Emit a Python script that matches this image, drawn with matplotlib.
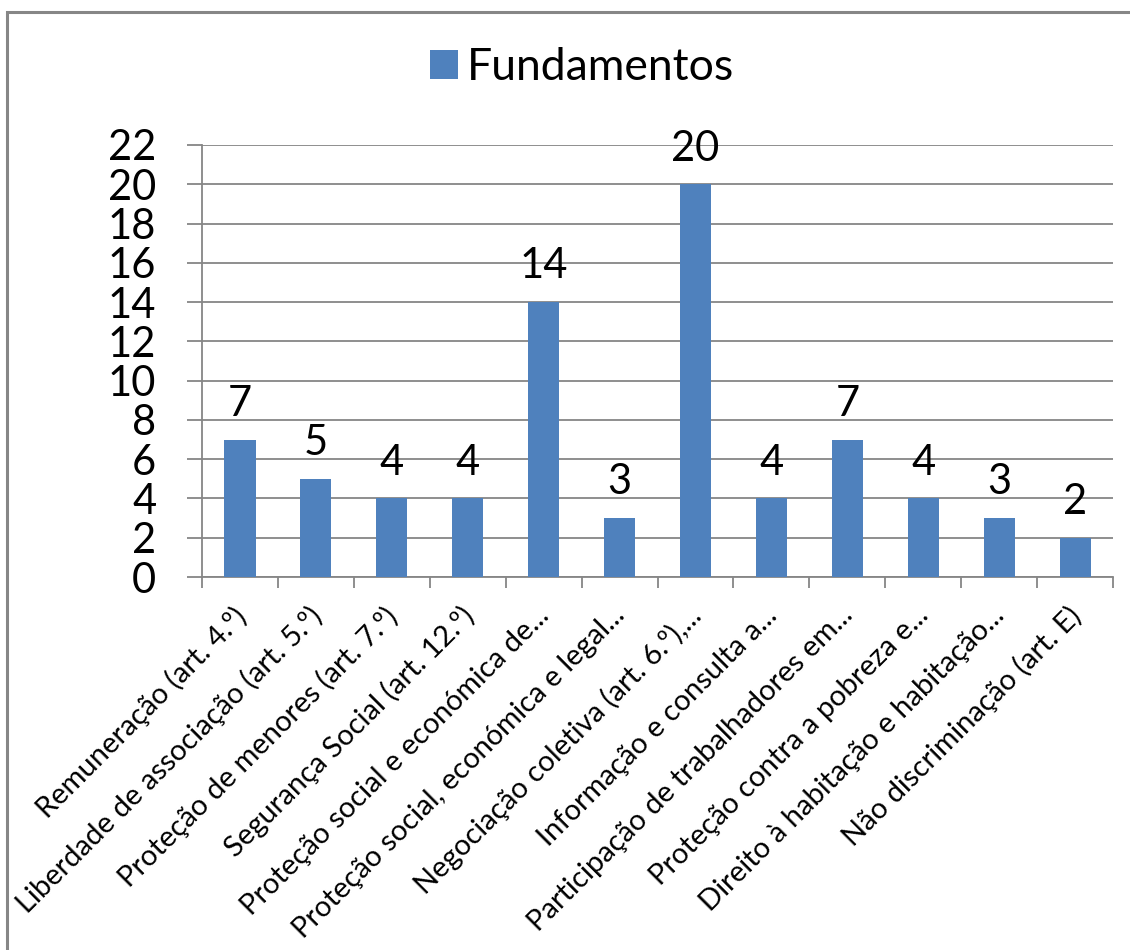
import matplotlib.pyplot as plt
import matplotlib.transforms as mtransforms
from matplotlib.patches import Rectangle
import numpy as np

plt.rcParams['font.family'] = ['Lato', 'DejaVu Sans']

# Fundamentos por artigo
categorias = [
    'Remuneração (art. 4.º)',
    'Liberdade de associação (art. 5.º)',
    'Proteção de menores (art. 7.º)',
    'Segurança Social (art. 12.º)',
    'Proteção social e económica de...',
    'Proteção social, económica e legal...',
    'Negociação coletiva (art. 6.º),...',
    'Informação e consulta a...',
    'Participação de trabalhadores em...',
    'Proteção contra a pobreza e...',
    'Direito à habitação e habitação...',
    'Não discriminação (art. E)',
]
valores = [7, 5, 4, 4, 14, 3, 20, 4, 7, 4, 3, 2]
yticks = list(range(0, 23, 2))

cor_barra = '#4F81BD'
cor_grelha = '#868686'

fig = plt.figure(figsize=(11.3, 9.5), dpi=100)
ax = fig.add_axes([0.1788, 0.3926, 0.8062, 0.4548])

x = np.arange(len(categorias))
barras = ax.bar(x, valores, width=0.41, color=cor_barra, zorder=3,
                label='Fundamentos')

for b, v in zip(barras, valores):
    ax.text(b.get_x() + b.get_width() / 2, v + 0.85, str(v),
            ha='center', va='bottom', fontsize=30, color='black')

ax.set_xlim(-0.5, len(categorias) - 0.5)
ax.set_ylim(0, 22)
ax.set_yticks(yticks)
ax.set_yticklabels([str(t) for t in yticks], fontsize=30)
ax.yaxis.grid(True, color=cor_grelha, linewidth=1.3, zorder=0)
ax.tick_params(axis='y', length=11, width=1.3, color=cor_grelha, pad=22)

# marcas do eixo x entre categorias
ax.set_xticks(x)
ax.set_xticklabels(categorias, rotation=45, ha='right',
                   rotation_mode='anchor', fontsize=21)
ax.tick_params(axis='x', length=0, pad=18)
desloc = mtransforms.ScaledTranslation(-8 / 100, 0, fig.dpi_scale_trans)
for lbl in ax.get_xticklabels():
    lbl.set_transform(lbl.get_transform() + desloc)
ax.set_xticks(np.arange(-0.5, len(categorias)), minor=True)
ax.tick_params(axis='x', which='minor', length=8, width=1.3, color=cor_grelha)

for lado in ['top', 'right']:
    ax.spines[lado].set_visible(False)
for lado in ['left', 'bottom']:
    ax.spines[lado].set_color(cor_grelha)
    ax.spines[lado].set_linewidth(1.3)

fig.legend(handles=[barras], labels=['Fundamentos'], loc='center',
           bbox_to_anchor=(0.515, 0.929), frameon=False, fontsize=32,
           handlelength=0.62, handleheight=0.62, handletextpad=0.2)

# moldura do gráfico
fig.patches.append(Rectangle((0.0066, -0.05), 1.1, 1.037, transform=fig.transFigure,
                             fill=False, edgecolor='#868686', linewidth=2.2))

fig.savefig('out.png', dpi=100)
